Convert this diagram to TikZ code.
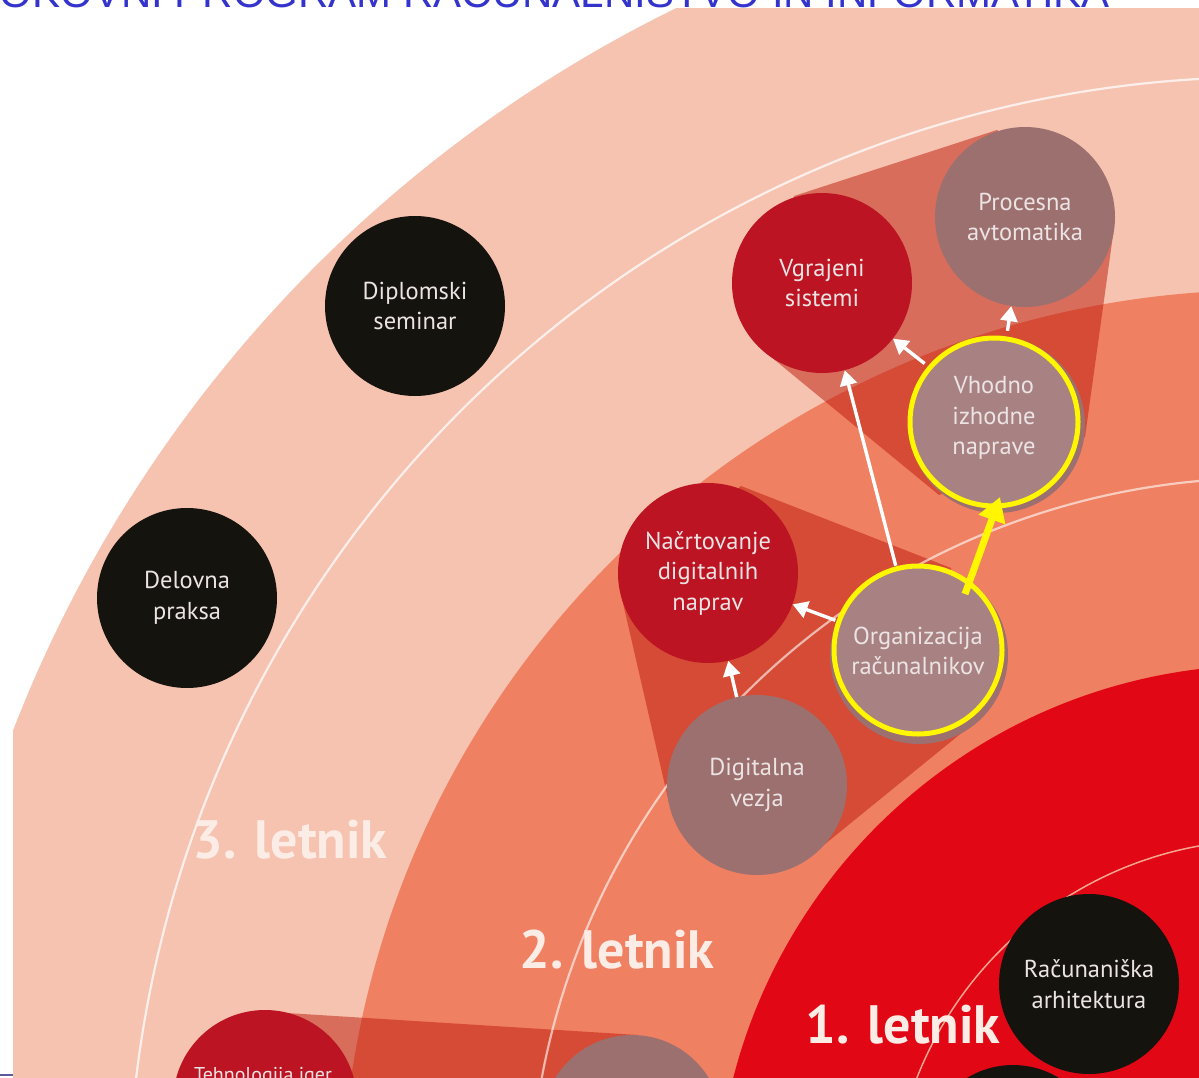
\documentclass[tikz,border=0pt]{standalone}
\usepackage{fontspec}
\setmainfont{PT Sans}
\newfontfamily\titlefont{Liberation Sans}
\usetikzlibrary{arrows.meta,calc}
\definecolor{ringA}{RGB}{246,195,176}
\definecolor{ringB}{RGB}{240,128,98}
\definecolor{ringC}{RGB}{226,7,20}
\definecolor{darkred}{RGB}{188,20,34}
\definecolor{hullc}{RGB}{188,24,10}
\definecolor{mauve}{RGB}{157,112,112}
\definecolor{mauvelt}{RGB}{168,130,130}
\definecolor{nblack}{RGB}{21,19,14}
\definecolor{ntext}{RGB}{236,228,228}
\definecolor{ytext}{RGB}{252,236,230}
\definecolor{titleblue}{RGB}{52,52,204}
\definecolor{hl}{RGB}{255,246,0}
\definecolor{redline}{RGB}{246,165,145}
\definecolor{edgeline}{RGB}{90,90,160}
\begin{document}
\begin{tikzpicture}[x=1pt,y=-1pt,
  course/.style={circle, inner sep=0pt, minimum size=180pt, text=ntext, align=center,
                 font=\fontsize{24.5}{30.5}\selectfont},
  hull/.style={fill=hullc, fill opacity=0.5},
  ringline/.style={draw=white, line width=2.2pt},
  warrow/.style={draw=white, line width=3.4pt, -{Triangle[length=15pt,width=17pt]}},
  yarrow/.style={draw=hl, line width=7pt, -{Triangle[length=24pt,width=27pt]}},
  yearlab/.style={text=ytext, font=\fontsize{54}{54}\selectfont\bfseries, inner sep=0pt, anchor=base}
]
\useasboundingbox (0,0) rectangle (1199,1078);
\fill[white] (0,0) rectangle (1199,1078);
\begin{scope}
  \clip (13,9) rectangle (1199,1078);
  \coordinate (C) at (1266,1215);
  \fill[ringA] (C) circle (1343pt);
  \fill[ringB] (C) circle (925pt);
  \fill[ringC] (C) circle (550pt);
  % translucent group areas
  \fill[hull] (794,196) -- (997,130) -- (1114,228) -- (1085,437) -- (939,495) -- (765,352) -- cycle;
  \fill[hull] (741,486) -- (951,568) -- (975,722) -- (814,853) -- (669,803) -- (620,590) -- cycle;
  \fill[hull] (271,1012) -- (638,1035) -- (627,1215) -- (260,1192) -- cycle;
  % thin lines in the rings
  \draw[ringline, draw opacity=0.75] (C) circle (1138pt);
  \draw[ringline, draw opacity=0.6] (C) circle (737pt);
  \draw[draw=redline, line width=1.5pt] (C) circle (375pt);
  % year labels
  \node[yearlab] (y3) at (290,858) {3. letnik};
  \node[yearlab] (y2) at (617,968) {2. letnik};
  \node[yearlab] (y1) at (903,1043) {1. letnik};
  % courses
  \node[course, fill=nblack] (dipl) at (415,306) {Diplomski\\seminar};
  \node[course, fill=nblack] (delo) at (187,598) {Delovna\\praksa};
  \node[course, fill=darkred] (vgr) at (822,283) {Vgrajeni\\sistemi};
  \node[course, fill=mauve] (proc) at (1025,217) {Procesna\\avtomatika};
  \fill[mauve] (997,425) circle (88pt);
  \draw[hl, line width=5pt, fill=mauvelt] (994,422) circle (84pt);
  \node[course, minimum size=176pt] (vho) at (994,418) {Vhodno\\izhodne\\naprave};
  \node[course, fill=darkred] (nac) at (708,573) {Načrtovanje\\digitalnih\\naprav};
  \fill[mauve] (919,655) circle (89pt);
  \draw[hl, line width=5pt, fill=mauvelt] (918,650) circle (84pt);
  \node[course, minimum size=176pt] (org) at (918,651) {Organizacija\\računalnikov};
  \node[course, fill=mauve] (dig) at (757,785) {Digitalna\\vezja};
  \node[course, fill=nblack] (rac) at (1089,984) {Računaniška\\arhitektura};
  \node[course, fill=nblack, minimum size=176pt] (bblk) at (1013,1153) {};
  \node[course, fill=darkred, minimum size=184pt] (teh) at (265,1102) {};
  \node[course, fill=mauve] (mb) at (632,1125) {};
  \node[text=ntext, font=\fontsize{20}{30}\selectfont, anchor=base, inner sep=0pt] (tehtxt) at (263,1081) {Tehnologija iger};
  % prerequisite arrows
  \draw[warrow] (org) -- (vgr);
  \draw[warrow] (vho) -- (vgr);
  \draw[warrow] (vho) -- (proc);
  \draw[warrow] (org) -- (nac);
  \draw[warrow] (dig) -- (nac);
  \coordinate (ys) at (965,594);
  \coordinate (ye) at (1000,497);
  \draw[yarrow] (ys) -- (ye);
\end{scope}
\draw[edgeline, line width=2pt] (0,1075) -- (13,1075);
\node[anchor=base east, inner sep=0pt, text=titleblue, font=\titlefont\fontsize{42}{42}\selectfont] (title) at (1110,8) {OKOVNI PROGRAM RAČUNALNIŠTVO IN INFORMATIKA};
\end{tikzpicture}
\end{document}
